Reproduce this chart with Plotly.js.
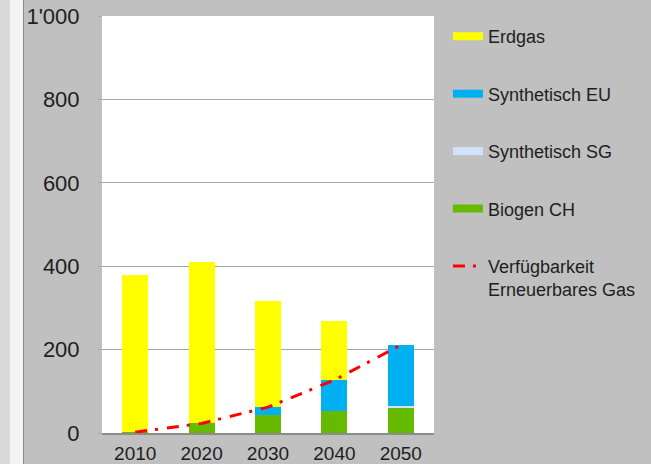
<!DOCTYPE html>
<html>
<head>
<meta charset="utf-8">
<script src="https://cdn.plot.ly/plotly-3.0.1.min.js"></script>
<style>
html, body { margin: 0; padding: 0; }
#chart {
  width: 651px; height: 464px;
  background: linear-gradient(to right, #d9d9d9 0px, #d9d9d9 10px, #f3f3f3 10px, #f3f3f3 23px, #8a8a8a 23px, #8a8a8a 24px, #c0c0c0 24px);
}
</style>
</head>
<body>
<div id="chart"></div>
<script>
// Data
const years = ['2010', '2020', '2030', '2040', '2050'];
const biogenCH = [3, 23, 42, 53, 61];
const synthSG = [0, 0, 0, 0, 3];
const synthEU = [0, 0, 21, 74, 147];
const erdgas = [375, 387, 253, 142, 0];
const verfuegbarkeit = [2, 23, 62, 127, 211];

const yTickVals = [0, 200, 400, 600, 800, 1000];
const yTickText = ['0', '200', '400', '600', '800', "1'000"];

const names = {
  erdgas: 'Erdgas',
  eu: 'Synthetisch EU',
  sg: 'Synthetisch SG',
  bio: 'Biogen CH',
  line: 'Verfügbarkeit<br>Erneuerbares Gas'
};

const colors = {
  erdgas: '#ffff00',
  eu: '#00b0f0',
  sg: '#d3e2fb',
  bio: '#66bb00',
  line: '#ff0000'
};

const dashStyle = '12px,8px,3px,9px';

function barTrace(y, key) {
  return {
    type: 'bar', x: years, y: y, name: names[key],
    marker: {color: colors[key], line: {width: 0}},
    showlegend: false, hoverinfo: 'x+y+name'
  };
}

function legendProxy(key, rank) {
  return {
    type: 'scatter', mode: 'lines', x: [null], y: [null], name: names[key],
    line: {color: colors[key], width: 8},
    legendgroup: key, legendrank: rank, showlegend: true, hoverinfo: 'skip'
  };
}

const data = [
  barTrace(biogenCH, 'bio'),
  barTrace(synthSG, 'sg'),
  barTrace(synthEU, 'eu'),
  barTrace(erdgas, 'erdgas'),
  {
    type: 'scatter', mode: 'lines', x: years, y: verfuegbarkeit, name: names.line,
    line: {color: colors.line, width: 3, dash: dashStyle},
    legendgroup: 'line', legendrank: 5, showlegend: true
  },
  legendProxy('erdgas', 1),
  legendProxy('eu', 2),
  legendProxy('sg', 3),
  legendProxy('bio', 4)
];

const layout = {
  width: 651, height: 464,
  margin: {l: 102, r: 217, t: 16, b: 31, pad: 0, autoexpand: false},
  paper_bgcolor: 'rgba(0,0,0,0)',
  plot_bgcolor: '#ffffff',
  barmode: 'stack',
  bargap: 0.61,
  font: {family: '"Liberation Sans", Arial, sans-serif', color: '#1e1e1e'},
  xaxis: {
    type: 'category',
    showgrid: false,
    showline: true, linecolor: '#8c8c8c', linewidth: 1.5,
    ticks: '', tickfont: {size: 19, color: '#1e1e1e'},
    ticklabelstandoff: 3,
    fixedrange: true
  },
  yaxis: {
    range: [0, 1000],
    tickvals: yTickVals, ticktext: yTickText,
    showgrid: true, gridcolor: '#a8a8a8', gridwidth: 1,
    zeroline: false,
    ticks: 'outside', ticklen: 3, tickcolor: '#a8a8a8',
    tickfont: {size: 22, color: '#1e1e1e'},
    ticklabelstandoff: 14,
    fixedrange: true
  },
  legend: {
    x: 1.042, xanchor: 'left', y: 0.995, yanchor: 'top',
    bgcolor: 'rgba(0,0,0,0)',
    font: {size: 18, color: '#1e1e1e'},
    traceorder: 'grouped',
    tracegroupgap: 31,
    valign: 'top'
  },
  showlegend: true
};

Plotly.newPlot('chart', data, layout, {displayModeBar: false, staticPlot: true});
</script>
</body>
</html>
